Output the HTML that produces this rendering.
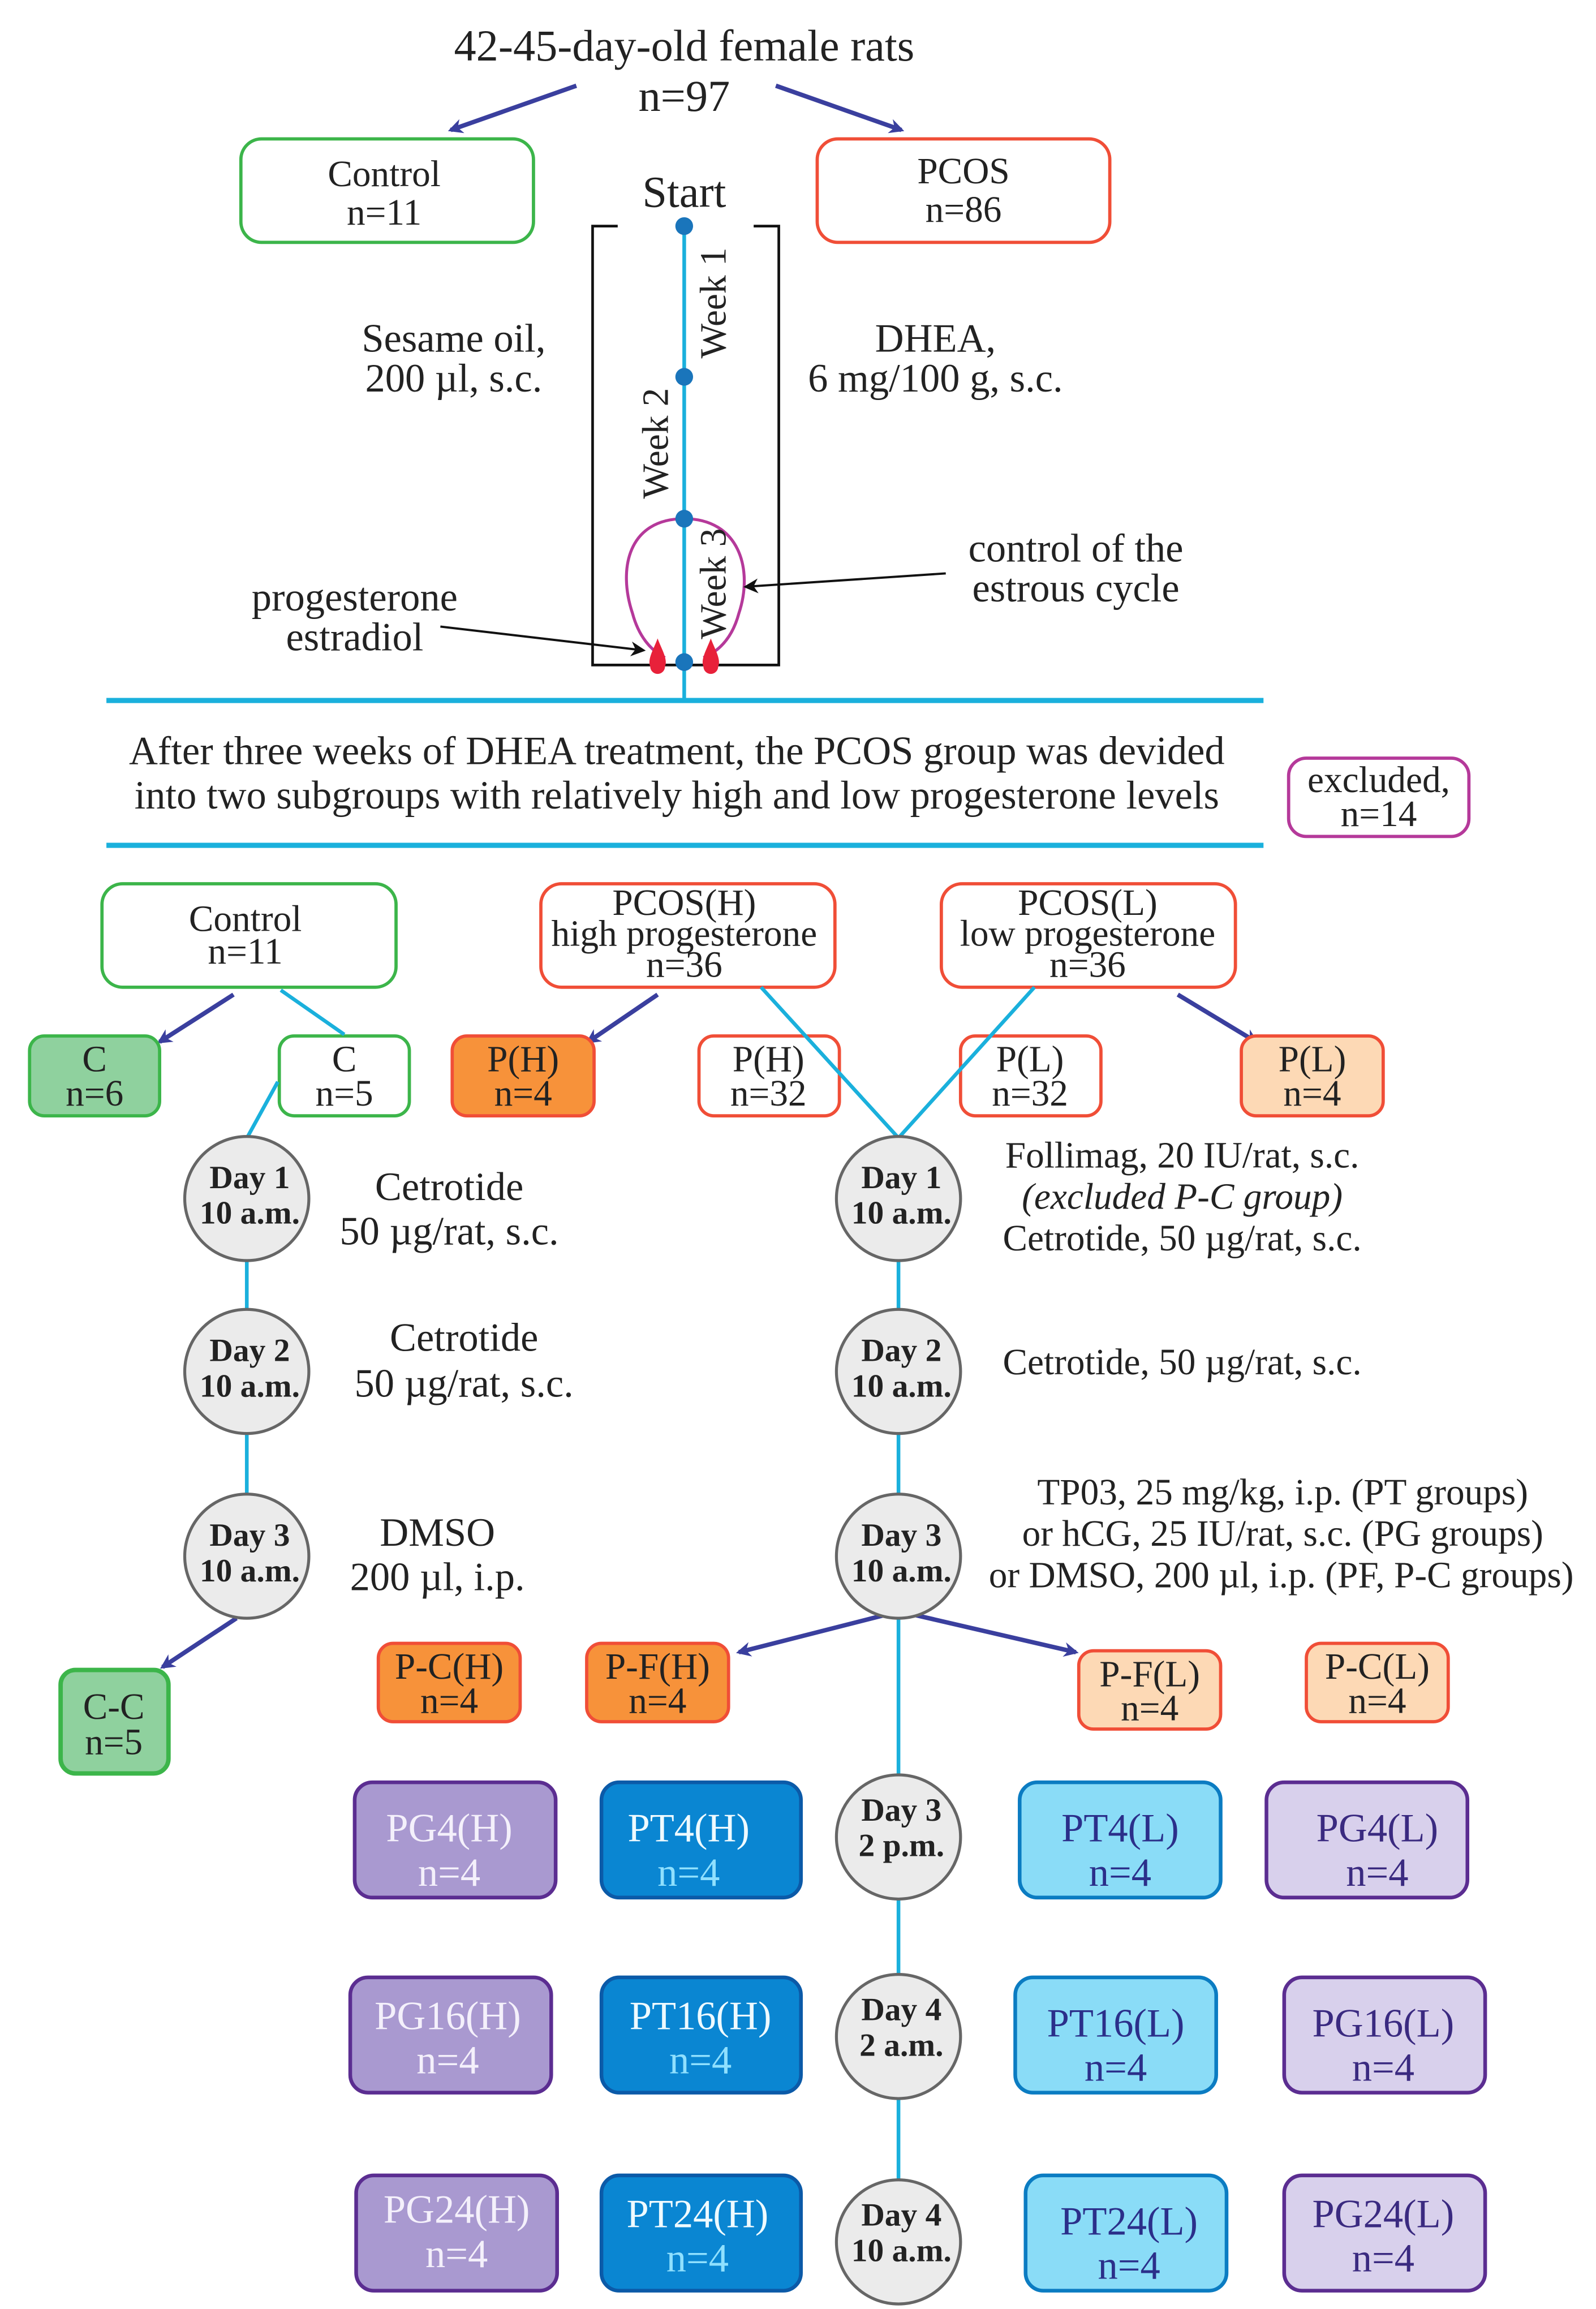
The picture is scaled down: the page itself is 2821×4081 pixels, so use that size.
<!DOCTYPE html>
<html><head><meta charset="utf-8"><style>
html,body{margin:0;padding:0;background:#fff;}
svg{display:block;}
text{font-family:"Liberation Serif",serif;fill:#222;}
</style></head><body>
<svg width="2821" height="4081" viewBox="0 0 1080 1562.4" xmlns="http://www.w3.org/2000/svg">
<defs>
<marker id="ah" markerWidth="10" markerHeight="10" refX="8" refY="5" orient="auto" markerUnits="userSpaceOnUse"><path d="M0,0 L10,5 L0,10 L3,5 z" fill="#3a3f9e"/></marker>
<marker id="bk" markerWidth="10" markerHeight="10" refX="8" refY="5" orient="auto" markerUnits="userSpaceOnUse"><path d="M0,0 L10,5 L0,10 L3,5 z" fill="#111"/></marker>
</defs>
<g font-size="30" text-anchor="middle">
<text x="463" y="41">42-45-day-old female rats</text>
<text x="463" y="75">n=97</text>
</g>
<g stroke="#3a3f9e" stroke-width="3" marker-end="url(#ah)">
<line x1="390" y1="58" x2="305" y2="88"/><line x1="525" y1="58" x2="610" y2="88"/>
<line x1="158" y1="673" x2="108" y2="705"/><line x1="445" y1="673" x2="398" y2="705"/>
<line x1="797" y1="673" x2="850" y2="705"/><line x1="160" y1="1095" x2="110" y2="1128"/>
<line x1="598" y1="1093" x2="500" y2="1118"/><line x1="620" y1="1093" x2="728" y2="1118"/>
</g>
<g fill="#fff" stroke-width="2.2">
<rect x="163" y="94" width="198" height="70" rx="14" stroke="#3cb54a"/>
<rect x="553" y="94" width="198" height="70" rx="14" stroke="#f04e37"/>
<rect x="872" y="513" width="122" height="53" rx="12" stroke="#b5399a"/>
<rect x="69" y="598" width="199" height="70" rx="14" stroke="#3cb54a"/>
<rect x="366" y="598" width="199" height="70" rx="14" stroke="#f04e37"/>
<rect x="637" y="598" width="199" height="70" rx="14" stroke="#f04e37"/>
<rect x="20" y="701" width="88" height="54" rx="10" stroke="#3cb54a" fill="#8fd19e"/>
<rect x="189" y="701" width="88" height="54" rx="10" stroke="#3cb54a"/>
<rect x="306" y="701" width="96" height="54" rx="10" stroke="#f04e37" fill="#f7923a"/>
<rect x="473" y="701" width="95" height="54" rx="10" stroke="#f04e37"/>
<rect x="650" y="701" width="95" height="54" rx="10" stroke="#f04e37"/>
<rect x="840" y="701" width="96" height="54" rx="10" stroke="#f04e37" fill="#fdd9b5"/>
<rect x="41" y="1130" width="73" height="70" rx="10" stroke="#3cb54a" stroke-width="3" fill="#8fd19e"/>
<rect x="256" y="1112" width="96" height="53" rx="10" stroke="#f04e37" fill="#f7923a"/>
<rect x="397" y="1112" width="96" height="53" rx="10" stroke="#f04e37" fill="#f7923a"/>
<rect x="730" y="1117" width="96" height="53" rx="10" stroke="#f04e37" fill="#fdd9b5"/>
<rect x="884" y="1112" width="96" height="53" rx="10" stroke="#f04e37" fill="#fdd9b5"/>
</g>
<g font-size="25" text-anchor="middle">
<text x="260" y="126">Control</text><text x="260" y="152">n=11</text>
<text x="652" y="124">PCOS</text><text x="652" y="150">n=86</text>
<text x="933" y="536">excluded,</text><text x="933" y="559">n=14</text>
<text x="166" y="630">Control</text><text x="166" y="652">n=11</text>
<text x="463" y="619">PCOS(H)</text><text x="463" y="640">high progesterone</text><text x="463" y="661">n=36</text>
<text x="736" y="619">PCOS(L)</text><text x="736" y="640">low progesterone</text><text x="736" y="661">n=36</text>
<text x="64" y="725">C</text><text x="64" y="748">n=6</text>
<text x="233" y="725">C</text><text x="233" y="748">n=5</text>
<text x="354" y="725">P(H)</text><text x="354" y="748">n=4</text>
<text x="520" y="725">P(H)</text><text x="520" y="748">n=32</text>
<text x="697" y="725">P(L)</text><text x="697" y="748">n=32</text>
<text x="888" y="725">P(L)</text><text x="888" y="748">n=4</text>
<text x="77" y="1163">C-C</text><text x="77" y="1187">n=5</text>
<text x="304" y="1136">P-C(H)</text><text x="304" y="1159">n=4</text>
<text x="445" y="1136">P-F(H)</text><text x="445" y="1159">n=4</text>
<text x="778" y="1141">P-F(L)</text><text x="778" y="1164">n=4</text>
<text x="932" y="1136">P-C(L)</text><text x="932" y="1159">n=4</text>
</g>
<path d="M418,153 H401 V450 H527 V153 H510" fill="none" stroke="#111" stroke-width="1.8"/>
<g stroke="#1ab0dc" stroke-width="2.5" fill="none">
<line x1="463" y1="153" x2="463" y2="474"/>
<line x1="72" y1="474" x2="855" y2="474" stroke-width="3.5"/>
<line x1="72" y1="572" x2="855" y2="572" stroke-width="3.5"/>
<line x1="190" y1="670" x2="233" y2="700"/>
<line x1="188" y1="732" x2="166" y2="772"/>
<line x1="515" y1="668" x2="608" y2="770"/><line x1="700" y1="668" x2="608" y2="770"/>
<line x1="167" y1="811" x2="167" y2="1053"/>
<line x1="608" y1="770" x2="608" y2="1517"/>
</g>
<path d="M463,351 C425,351 418,385 428,415 C432,430 440,440 450,445 M463,351 C500,351 510,385 500,415 C496,430 488,440 476,445" fill="none" stroke="#b5399a" stroke-width="2"/>
<g fill="#1a75bb"><circle cx="463" cy="153" r="6"/><circle cx="463" cy="255" r="6"/><circle cx="463" cy="351" r="6"/><circle cx="463" cy="448" r="6"/></g>
<g fill="#e8213a"><path d="M445,432 C448,440 452,446 450,451 A5,5 0 0 1 440,451 C438,446 442,440 445,432z"/><path d="M481,432 C484,440 488,446 486,451 A5,5 0 0 1 476,451 C474,446 478,440 481,432z"/></g>
<g font-size="27" text-anchor="middle">
<text x="463" y="140" font-size="30">Start</text>
<text transform="translate(491,205) rotate(-90)" font-size="25">Week 1</text>
<text transform="translate(452,300) rotate(-90)" font-size="25">Week 2</text>
<text transform="translate(491,395) rotate(-90)" font-size="25">Week 3</text>
<text x="307" y="238">Sesame oil,</text><text x="307" y="265">200 µl, s.c.</text>
<text x="633" y="238">DHEA,</text><text x="633" y="265">6 mg/100 g, s.c.</text>
<text x="728" y="380">control of the</text><text x="728" y="407">estrous cycle</text>
<text x="240" y="413">progesterone</text><text x="240" y="440">estradiol</text>
<text x="458" y="517">After three weeks of DHEA treatment, the PCOS group was devided</text>
<text x="458" y="547">into two subgroups with relatively high and low progesterone levels</text>
<text x="304" y="812">Cetrotide</text><text x="304" y="842">50 µg/rat, s.c.</text>
<text x="314" y="914">Cetrotide</text><text x="314" y="945">50 µg/rat, s.c.</text>
<text x="296" y="1046">DMSO</text><text x="296" y="1076">200 µl, i.p.</text>
</g>
<g font-size="25" text-anchor="middle">
<text x="800" y="790">Follimag, 20 IU/rat, s.c.</text>
<text x="800" y="818" font-style="italic">(excluded P-C group)</text>
<text x="800" y="846">Cetrotide, 50 µg/rat, s.c.</text>
<text x="800" y="930">Cetrotide, 50 µg/rat, s.c.</text>
<text x="868" y="1018">TP03, 25 mg/kg, i.p. (PT groups)</text>
<text x="868" y="1046">or hCG, 25 IU/rat, s.c. (PG groups)</text>
<text x="867" y="1074">or DMSO, 200 µl, i.p. (PF, P-C groups)</text>
</g>
<g stroke="#111" stroke-width="1.5" marker-end="url(#bk)">
<line x1="640" y1="388" x2="505" y2="397"/><line x1="298" y1="424" x2="435" y2="440"/>
</g>
<g fill="#ebebeb" stroke="#666" stroke-width="2">
<circle cx="167" cy="811" r="42"/><circle cx="167" cy="928" r="42"/><circle cx="167" cy="1053" r="42"/>
<circle cx="608" cy="811" r="42"/><circle cx="608" cy="928" r="42"/><circle cx="608" cy="1053" r="42"/>
<circle cx="608" cy="1243" r="42"/><circle cx="608" cy="1378" r="42"/><circle cx="608" cy="1517" r="42"/>
</g>
<g font-size="22" font-weight="bold" text-anchor="middle">
<text x="169" y="804">Day 1</text><text x="169" y="828">10 a.m.</text>
<text x="169" y="921">Day 2</text><text x="169" y="945">10 a.m.</text>
<text x="169" y="1046">Day 3</text><text x="169" y="1070">10 a.m.</text>
<text x="610" y="804">Day 1</text><text x="610" y="828">10 a.m.</text>
<text x="610" y="921">Day 2</text><text x="610" y="945">10 a.m.</text>
<text x="610" y="1046">Day 3</text><text x="610" y="1070">10 a.m.</text>
<text x="610" y="1232">Day 3</text><text x="610" y="1256">2 p.m.</text>
<text x="610" y="1367">Day 4</text><text x="610" y="1391">2 a.m.</text>
<text x="610" y="1506">Day 4</text><text x="610" y="1530">10 a.m.</text>
</g>
<g stroke-width="2.5">
<rect x="240" y="1206" width="136" height="78" rx="12" fill="#a999d0" stroke="#5b2d91"/>
<rect x="237" y="1338" width="136" height="78" rx="12" fill="#a999d0" stroke="#5b2d91"/>
<rect x="241" y="1472" width="136" height="78" rx="12" fill="#a999d0" stroke="#5b2d91"/>
<rect x="407" y="1206" width="135" height="78" rx="12" fill="#0a86d2" stroke="#0b5aa8"/>
<rect x="407" y="1338" width="135" height="78" rx="12" fill="#0a86d2" stroke="#0b5aa8"/>
<rect x="407" y="1472" width="135" height="78" rx="12" fill="#0a86d2" stroke="#0b5aa8"/>
<rect x="690" y="1206" width="136" height="78" rx="12" fill="#8adcf7" stroke="#0b7cc2"/>
<rect x="687" y="1338" width="136" height="78" rx="12" fill="#8adcf7" stroke="#0b7cc2"/>
<rect x="694" y="1472" width="136" height="78" rx="12" fill="#8adcf7" stroke="#0b7cc2"/>
<rect x="857" y="1206" width="136" height="78" rx="12" fill="#d8d0ec" stroke="#5b2d91"/>
<rect x="869" y="1338" width="136" height="78" rx="12" fill="#d8d0ec" stroke="#5b2d91"/>
<rect x="869" y="1472" width="136" height="78" rx="12" fill="#d8d0ec" stroke="#5b2d91"/>
</g>
<g font-size="27" text-anchor="middle">
<text x="304" y="1246" style="fill:#f4f0fb">PG4(H)</text><text x="304" y="1276" style="fill:#f4f0fb">n=4</text>
<text x="303" y="1373" style="fill:#f4f0fb">PG16(H)</text><text x="303" y="1403" style="fill:#f4f0fb">n=4</text>
<text x="309" y="1504" style="fill:#f4f0fb">PG24(H)</text><text x="309" y="1534" style="fill:#f4f0fb">n=4</text>
<text x="466" y="1246" style="fill:#eefaff">PT4(H)</text><text x="466" y="1276" style="fill:#8fe0ff">n=4</text>
<text x="474" y="1373" style="fill:#eefaff">PT16(H)</text><text x="474" y="1403" style="fill:#8fe0ff">n=4</text>
<text x="472" y="1507" style="fill:#eefaff">PT24(H)</text><text x="472" y="1537" style="fill:#8fe0ff">n=4</text>
<text x="758" y="1246" style="fill:#2b2f8a">PT4(L)</text><text x="758" y="1276" style="fill:#2b2f8a">n=4</text>
<text x="755" y="1378" style="fill:#2b2f8a">PT16(L)</text><text x="755" y="1408" style="fill:#2b2f8a">n=4</text>
<text x="764" y="1512" style="fill:#2b2f8a">PT24(L)</text><text x="764" y="1542" style="fill:#2b2f8a">n=4</text>
<text x="932" y="1246" style="fill:#3a2a80">PG4(L)</text><text x="932" y="1276" style="fill:#3a2a80">n=4</text>
<text x="936" y="1378" style="fill:#3a2a80">PG16(L)</text><text x="936" y="1408" style="fill:#3a2a80">n=4</text>
<text x="936" y="1507" style="fill:#3a2a80">PG24(L)</text><text x="936" y="1537" style="fill:#3a2a80">n=4</text>
</g>
</svg>
</body></html>
